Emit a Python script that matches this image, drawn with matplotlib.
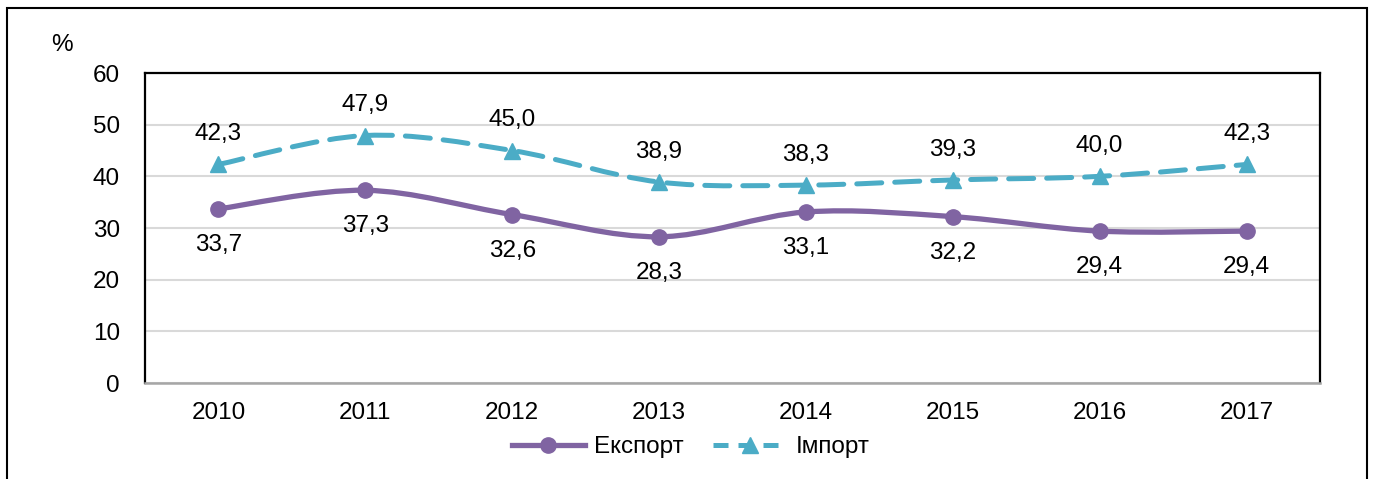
import matplotlib
matplotlib.use("Agg")
import matplotlib.pyplot as plt
from matplotlib.path import Path
from matplotlib.patches import PathPatch, Rectangle
from matplotlib.lines import Line2D

plt.rcParams['font.family'] = ['Liberation Sans', 'DejaVu Sans']

years = ['2010', '2011', '2012', '2013', '2014', '2015', '2016', '2017']
export_vals = [33.7, 37.3, 32.6, 28.3, 33.1, 32.2, 29.4, 29.4]
import_vals = [42.3, 47.9, 45.0, 38.9, 38.3, 39.3, 40.0, 42.3]

purple = '#8064A2'
teal = '#4BACC6'
fs = 17.5


def smooth_path(xs, ys, t=1/6):
    # Excel-style smoothed line as cubic bezier segments
    verts = [(xs[0], ys[0])]
    codes = [Path.MOVETO]
    n = len(xs)
    for i in range(n - 1):
        x0, y0 = xs[max(i - 1, 0)], ys[max(i - 1, 0)]
        x1, y1 = xs[i], ys[i]
        x2, y2 = xs[i + 1], ys[i + 1]
        x3, y3 = xs[min(i + 2, n - 1)], ys[min(i + 2, n - 1)]
        c1 = (x1 + (x2 - x0) * t, y1 + (y2 - y0) * t)
        c2 = (x2 - (x3 - x1) * t, y2 - (y3 - y1) * t)
        verts += [c1, c2, (x2, y2)]
        codes += [Path.CURVE4] * 3
    return Path(verts, codes)


fig = plt.figure(figsize=(13.73, 4.79), dpi=100)
ax = fig.add_axes([145 / 1373, 1 - 383 / 479, 1175 / 1373, 310 / 479])

xs = list(range(len(years)))
dash = (0, (5.0, 2.6))

ax.add_patch(PathPatch(smooth_path(xs, import_vals), fill=False, edgecolor=teal,
                       lw=3.6, linestyle=dash, capstyle='round', zorder=3))
ax.plot(xs, import_vals, linestyle='none', marker='^', markersize=12, color=teal, zorder=4)

ax.add_patch(PathPatch(smooth_path(xs, export_vals), fill=False, edgecolor=purple,
                       lw=3.8, capstyle='round', zorder=3))
ax.plot(xs, export_vals, linestyle='none', marker='o', markersize=11, color=purple, zorder=4)

for x, v in zip(xs, import_vals):
    ax.annotate(f"{v:.1f}".replace('.', ','), (x, v), xytext=(0, 14), textcoords='offset points',
                ha='center', va='bottom', fontsize=fs)
for x, v in zip(xs, export_vals):
    ax.annotate(f"{v:.1f}".replace('.', ','), (x, v), xytext=(0, -18), textcoords='offset points',
                ha='center', va='top', fontsize=fs)

ax.set_xlim(-0.5, 7.5)
ax.set_ylim(0, 60)
ax.set_yticks(range(0, 61, 10))
ax.set_xticks(xs)
ax.set_xticklabels(years)
ax.tick_params(axis='both', length=0, labelsize=fs)
ax.tick_params(axis='x', pad=14)
ax.tick_params(axis='y', pad=18)
ax.grid(axis='y', color='#D9D9D9', lw=1.5)
ax.set_axisbelow(True)
for s in ['left', 'top', 'right']:
    ax.spines[s].set_color('black')
    ax.spines[s].set_linewidth(1.6)
ax.spines['bottom'].set_color('#A6A6A6')
ax.spines['bottom'].set_linewidth(1.8)

fig.text(62 / 1373, 1 - 45 / 479, '%', fontsize=fs, ha='center', va='center')

handles = [Line2D([], [], color=purple, lw=3.8, marker='o', markersize=11),
           Line2D([], [], color=teal, lw=3.6, linestyle=(0, (3.0, 2.0)), marker='^', markersize=12)]
fig.legend(handles, ['Експорт', 'Імпорт'], loc='center', bbox_to_anchor=(0.503, 1 - 447 / 479),
           ncol=2, frameon=False, fontsize=fs, handlelength=3.0, columnspacing=1.2, handletextpad=0.4)

fig.patches.append(Rectangle((7 / 1373, -0.05), 1360 / 1373, 1.05 - 8 / 479, transform=fig.transFigure,
                             fill=False, edgecolor='black', lw=1.5))

fig.savefig('out.png', dpi=100)
